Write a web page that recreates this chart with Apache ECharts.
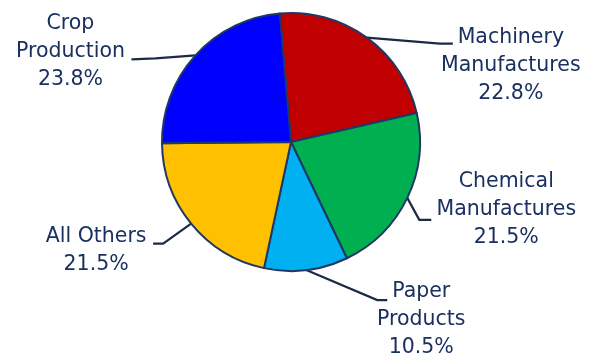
<!DOCTYPE html>
<html>
<head>
<meta charset="utf-8">
<script src="https://cdn.jsdelivr.net/npm/echarts@6/dist/echarts.min.js"></script>
<style>
html,body{margin:0;padding:0;background:#fff;}
#chart{width:597px;height:358px;}
</style>
</head>
<body>
<div id="chart"></div>
<script>
const categories = ['Machinery\nManufactures', 'Chemical\nManufactures', 'Paper\nProducts', 'All Others', 'Crop\nProduction'];
const shares = [22.8, 21.5, 10.5, 21.5, 23.8];
const sliceColors = ['#C00000', '#00B050', '#00B0F0', '#FFC000', '#0000FF'];

// label placement offsets relative to the slice edge point given by the library
const labelOffsets = [
  {c: [144, 28], p: [[73, 6], [86, 6]]},
  {c: [99, 12], p: [[12, 22], [24, 22]]},
  {c: [115, 50], p: [[71, 30], [81, 30]]},
  {c: [-95, 27], p: [[-28, 20], [-38, 20]]},
  {c: [-125, -4], p: [[-40, 3], [-64, 4]]}
];

const chart = echarts.init(document.getElementById('chart'), null, {renderer: 'canvas'});
const data = categories.map((name, i) => ({
  name: name,
  value: shares[i],
  itemStyle: {color: sliceColors[i]}
}));

chart.setOption({
  animation: false,
  backgroundColor: '#ffffff',
  series: [{
    type: 'pie',
    center: [291, 142],
    radius: 129,
    startAngle: 95,
    clockwise: true,
    data: data,
    itemStyle: {borderColor: '#1F3864', borderWidth: 2},
    label: {
      show: true,
      position: 'outside',
      overflow: 'none',
      formatter: p => p.name + '\n' + p.value.toFixed(1) + '%',
      fontFamily: 'DejaVu Sans',
      fontSize: 20.5,
      lineHeight: 28,
      color: '#1A3060'
    },
    labelLine: {
      show: true,
      lineStyle: {color: '#1C2B45', width: 2.2}
    },
    labelLayout: function (params) {
      const o = labelOffsets[params.dataIndex];
      const e = params.labelLinePoints[0];
      return {
        x: e[0] + o.c[0],
        y: e[1] + o.c[1],
        align: 'center',
        verticalAlign: 'middle',
        labelLinePoints: [
          [e[0], e[1]],
          [e[0] + o.p[0][0], e[1] + o.p[0][1]],
          [e[0] + o.p[1][0], e[1] + o.p[1][1]]
        ]
      };
    }
  }]
});
</script>
</body>
</html>
